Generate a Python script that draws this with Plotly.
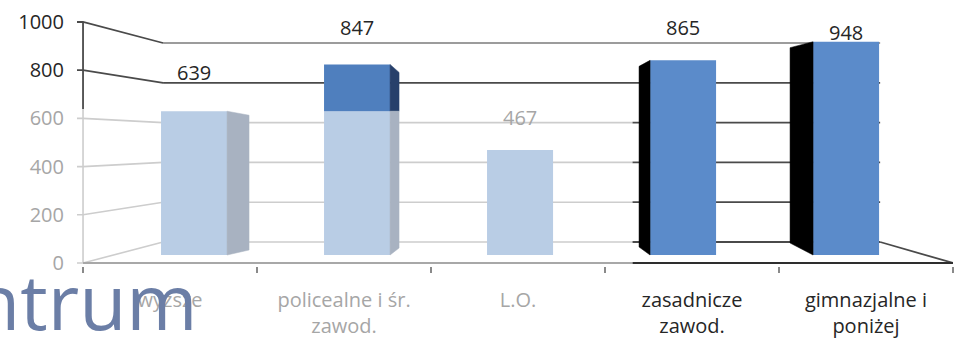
import plotly.graph_objects as go

# ---------------- data ----------------
categories = ["wyższe", "policealne i śr.<br>zawod.", "L.O.",
              "zasadnicze<br>zawod.", "gimnazjalne i<br>poniżej"]
values = [639, 847, 467, 865, 948]
y_ticks = [0, 200, 400, 600, 800, 1000]
fade_level = 639          # level under which the left part of the picture is faded

# ---------------- layout geometry (pixels of the 969x338 page) ----------------
W, H = 969, 338
M_L, M_R, M_T, M_B = 77, 16, 18, 72
PLOT_W = W - M_L - M_R
PLOT_H = H - M_T - M_B
LABEL_RANGE = [-12.45, 1016.6]        # scale of the value-axis labels
FRONT_RANGE = [-48.9, 1053.3]         # scale of the bar front faces
BACK_RANGE = [-120.6, 1125.6]         # scale of the back wall
X_RANGE = [-0.718, 4.656]             # bars sit at 0..4
BAR_HALF = 0.2025
FADE_X = 2.69
WALL_LEFT, WALL_RIGHT = -0.190, 4.209
AXIS_X = -0.681                       # value axis (front left edge)
TICK_X = -0.718
CAT_STEP = (X_RANGE[1] - AXIS_X) / len(categories)   # label slots along the front edge
LABEL_LIFT = [174, 166, 146, 148, 43]

PX_X = PLOT_W / (X_RANGE[1] - X_RANGE[0])
PX_Y = PLOT_H / (FRONT_RANGE[1] - FRONT_RANGE[0])

# side faces: (side, width px, top drop px, bottom rise px, dark colour)
SIDES = [("right", 22, 4, 5, "#27406b"),
         ("right", 9, 8, 7, "#27406b"),
         None,
         ("left", 11, 6, 8, "#000000"),
         ("left", 23, 6, 12, "#000000")]

FADED_BAR = "#b9cde5"
FADED_SIDE = "#a8b2c1"
DARK_BAR_TOP = "#4f7fbe"
DARK_BAR = "#5b8bca"
DARK_LINE = "#4a4a4a"
TOP_LINE = "#9c9c9c"
FADED_LINE = "#cdcdcd"
DARK_TEXT = "#262626"
FADED_TEXT = "#a6a6a6"
FONT = "Open Sans"


def to_label(v, rng):
    return LABEL_RANGE[0] + (v - rng[0]) / (rng[1] - rng[0]) * (LABEL_RANGE[1] - LABEL_RANGE[0])


fig = go.Figure()

# ---------------- walls and grid ----------------
dark_x, dark_y, faded_x, faded_y, top_x, top_y = [], [], [], [], [], []
for v in y_ticks:
    b = to_label(v, BACK_RANGE)
    upper = v > fade_level
    tx, ty = (dark_x, dark_y) if upper else (faded_x, faded_y)
    tx += [TICK_X, AXIS_X, WALL_LEFT, None]
    ty += [v, v, b, None]
    if v == max(y_ticks):
        top_x += [WALL_LEFT, WALL_RIGHT, None]
        top_y += [b, b, None]
    elif upper:
        dark_x += [WALL_LEFT, WALL_RIGHT, None]
        dark_y += [b, b, None]
    else:
        faded_x += [WALL_LEFT, FADE_X, None]
        faded_y += [b, b, None]
        dark_x += [FADE_X, WALL_RIGHT, None]
        dark_y += [b, b, None]
dark_x += [WALL_RIGHT, X_RANGE[1], None]
dark_y += [to_label(0, BACK_RANGE), 0, None]
dark_x += [AXIS_X, AXIS_X, None]
dark_y += [fade_level, max(y_ticks), None]
faded_x += [AXIS_X, AXIS_X, None]
faded_y += [0, fade_level, None]

for xs, ys, col, wd in [(faded_x, faded_y, FADED_LINE, 1.6),
                        (top_x, top_y, TOP_LINE, 1.8),
                        (dark_x, dark_y, DARK_LINE, 1.8)]:
    fig.add_trace(go.Scatter(x=xs, y=ys, mode="lines", xaxis="x", yaxis="y",
                             line=dict(color=col, width=wd), hoverinfo="skip",
                             showlegend=False))

# ---------------- bar side faces ----------------
for i, v in enumerate(values):
    spec = SIDES[i]
    if spec is None:
        continue
    side, wpx, dtop, dbot, dcol = spec
    sign = 1 if side == "right" else -1
    x0 = i + sign * BAR_HALF
    x1 = x0 + sign * wpx / PX_X
    top1 = v - dtop / PX_Y
    bot1 = dbot / PX_Y
    faded = x0 < FADE_X
    polys = []
    if faded and v > fade_level:
        polys.append(([x0, x0, x1, x1, x0], [fade_level, v, top1, fade_level, fade_level], dcol))
        polys.append(([x0, x0, x1, x1, x0], [0, fade_level, fade_level, bot1, 0], FADED_SIDE))
    else:
        polys.append(([x0, x0, x1, x1, x0], [0, v, top1, bot1, 0],
                      FADED_SIDE if faded else dcol))
    for px, py, col in polys:
        fig.add_trace(go.Scatter(x=px, y=py, mode="lines", fill="toself", fillcolor=col,
                                 line=dict(color=col, width=0.5), xaxis="x", yaxis="y2",
                                 hoverinfo="skip", showlegend=False))

# ---------------- bars ----------------
idx = list(range(len(values)))
faded_idx = [i for i in idx if i < FADE_X]
dark_idx = [i for i in idx if i >= FADE_X]
fig.add_trace(go.Bar(x=faded_idx, y=[min(values[i], fade_level) for i in faded_idx],
                     marker=dict(color=FADED_BAR, line=dict(width=0)), width=2 * BAR_HALF,
                     xaxis="x", yaxis="y2", showlegend=False, hoverinfo="skip"))
top_idx = [i for i in faded_idx if values[i] > fade_level]
fig.add_trace(go.Bar(x=top_idx, y=[values[i] - fade_level for i in top_idx],
                     base=[fade_level] * len(top_idx),
                     marker=dict(color=DARK_BAR_TOP, line=dict(width=0)), width=2 * BAR_HALF,
                     xaxis="x", yaxis="y2", showlegend=False, hoverinfo="skip"))
fig.add_trace(go.Bar(x=dark_idx, y=[values[i] for i in dark_idx],
                     marker=dict(color=DARK_BAR, line=dict(width=0)), width=2 * BAR_HALF,
                     xaxis="x", yaxis="y2", showlegend=False, hoverinfo="skip"))

# bottom axis line (faded left part, dark right part)
fig.add_trace(go.Scatter(x=[AXIS_X, FADE_X], y=[0, 0], mode="lines", xaxis="x", yaxis="y",
                         line=dict(color="#a8a8a8", width=1.8), hoverinfo="skip", showlegend=False))
fig.add_trace(go.Scatter(x=[FADE_X, X_RANGE[1]], y=[0, 0], mode="lines", xaxis="x", yaxis="y",
                         line=dict(color="#2e2e2e", width=2), hoverinfo="skip", showlegend=False))

# ---------------- data labels ----------------
for i, v in enumerate(values):
    ly = v + LABEL_LIFT[i]
    col = FADED_TEXT if (i < FADE_X and ly < fade_level) else DARK_TEXT
    fig.add_annotation(x=i, y=ly, xref="x", yref="y2", text=str(v), showarrow=False,
                       font=dict(family=FONT, size=20, color=col), yanchor="middle")

# ---------------- watermark ----------------
fig.add_annotation(x=(200 - M_L) / PLOT_W, y=0.08, xref="paper", yref="paper",
                   text="ntrum", showarrow=False, xanchor="right", yanchor="top",
                   font=dict(family=FONT, size=77, color="#6b7ea6"))

# ---------------- axes ----------------
label_pos = [AXIS_X + (k + 0.5) * CAT_STEP for k in range(len(categories))]
bounds = [AXIS_X + k * CAT_STEP for k in range(len(categories) + 1)]
cat_tick = [f"<span style='color:{FADED_TEXT if p < FADE_X else DARK_TEXT}'>{c}</span>"
            for p, c in zip(label_pos, categories)]
val_tick = [f"<span style='color:{DARK_TEXT if v > fade_level else FADED_TEXT}'>{v}</span>"
            for v in y_ticks]

fig.update_layout(
    width=W, height=H,
    margin=dict(l=M_L, r=M_R, t=M_T, b=M_B, pad=0, autoexpand=False),
    paper_bgcolor="white", plot_bgcolor="white",
    barmode="overlay",
    font=dict(family=FONT, color=DARK_TEXT),
    xaxis=dict(range=X_RANGE, domain=[0, 1], anchor="y", automargin=False,
               tickmode="array", tickvals=label_pos, ticktext=cat_tick, ticks="",
               minor=dict(tickmode="array", tickvals=bounds, ticks="outside", ticklen=6,
                          tickcolor="#8a8a8a", tickwidth=1.5, showgrid=False),
               showgrid=False, zeroline=False, showline=False,
               ticklabelstandoff=20, tickfont=dict(size=20, family=FONT), fixedrange=True),
    yaxis=dict(range=LABEL_RANGE, domain=[0, 1], anchor="x", automargin=False,
               tickvals=y_ticks, ticktext=val_tick, ticks="",
               ticklabelstandoff=12, showgrid=False, zeroline=False, showline=False,
               tickfont=dict(size=20, family=FONT), fixedrange=True),
    yaxis2=dict(range=FRONT_RANGE, overlaying="y", anchor="x", visible=False,
                fixedrange=True, automargin=False),
)

fig.write_html("out.html")
